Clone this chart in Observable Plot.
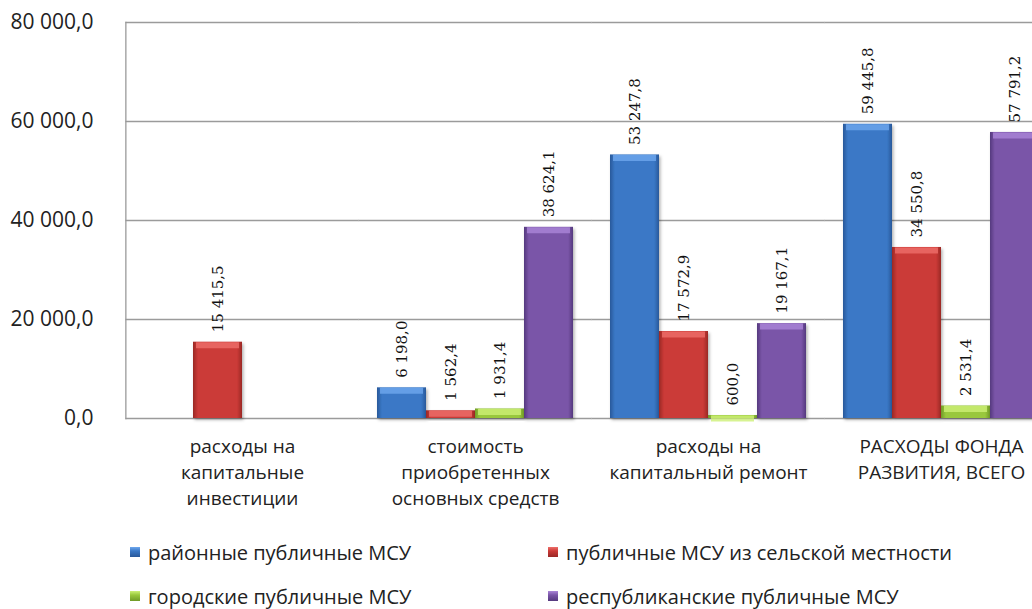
<!DOCTYPE html>
<html><head><meta charset="utf-8">
<script src="https://cdn.jsdelivr.net/npm/d3@7"></script>
<script src="https://cdn.jsdelivr.net/npm/@observablehq/plot@0.6"></script>
<style>
html,body{margin:0;padding:0;overflow:hidden;background:#fff;width:1032px;height:609px}
#chart{position:relative;width:1032px;height:530px;overflow:hidden}
#chart svg{max-width:none !important}
#legend{display:grid;grid-template-columns:418px 418px;grid-auto-rows:44px;padding-left:130px;font-family:'Open Sans',sans-serif;font-size:20px;color:#222}
#legend .item{display:flex;align-items:center;white-space:nowrap}
#legend .sw{width:10px;height:10px;margin-right:8px;display:inline-block}
</style></head><body>
<div id="chart"></div>
<div id="legend"></div>
<script>
const categories = ["расходы на капитальные инвестиции", "стоимость приобретенных основных средств", "расходы на капитальный ремонт", "РАСХОДЫ ФОНДА РАЗВИТИЯ, ВСЕГО"];
const categoryLabels = ["расходы на\nкапитальные\nинвестиции", "стоимость\nприобретенных\nосновных средств", "расходы на\nкапитальный ремонт", "РАСХОДЫ ФОНДА\nРАЗВИТИЯ, ВСЕГО"];
const series = ["районные публичные МСУ", "публичные МСУ из сельской местности", "городские публичные МСУ", "республиканские публичные МСУ"];
const district = [null, 6198.0, 53247.8, 59445.8];
const rural = [15415.5, 1562.4, 17572.9, 34550.8];
const urban = [null, 1931.4, 600.0, 2531.4];
const republican = [null, 38624.1, 19167.1, 57791.2];
const yTicks = [0, 20000, 40000, 60000, 80000];

const baseColors = ["#3a78c6", "#cb3a37", "#99c83c", "#7a55a8"];
const darkColors = ["#28589a", "#9a2826", "#709a28", "#55397e"];
const lightColors = ["#6fa8ee", "#ee6f6a", "#cdf077", "#ab86d8"];

const seriesValues = [district, rural, urban, republican];
const rows = [];
categories.forEach((c, ci) => {
  series.forEach((s, si) => {
    const v = seriesValues[si][ci];
    if (v != null) rows.push({category: c, series: s, value: v});
  });
});

const fmt = d3.formatLocale({decimal: ",", thousands: "\u00a0", grouping: [3], currency: ["", ""]}).format(",.1f");

const W = 1060, ML = 125, MR = 3, PAD_IN = 0.16, PAD_OUT = 0.08;
const step = (W - ML - MR) / categories.length;
const ext = step * PAD_OUT;

const plot = Plot.plot({
  width: W,
  height: 530,
  marginLeft: ML,
  marginRight: MR,
  marginTop: 22,
  marginBottom: 112,
  style: {fontFamily: "'Open Sans', sans-serif", color: "#222", background: "white", maxWidth: "none"},
  fx: {domain: categories, paddingInner: PAD_IN, paddingOuter: PAD_OUT, label: null, axis: null},
  x: {domain: series, padding: 0, axis: null},
  y: {domain: [0, 80000], axis: null},
  color: {domain: series, range: series.map((s, i) => `url(#grad${i})`)},
  marks: [
    Plot.ruleY(yTicks, {stroke: "#9b9b9b", strokeWidth: 1.3, insetLeft: -ext, insetRight: -ext}),
    Plot.frame({anchor: "left", facet: "super", stroke: "#9b9b9b", strokeWidth: 1.3, insetLeft: -ext}),
    Plot.barY(rows, {fx: "category", x: "series", y: "value", fill: "series"}),
    ...series.map((s, i) => Plot.tickY(rows.filter(r => r.series === s), {
      fx: "category", x: "series", y: "value", stroke: lightColors[i], strokeWidth: 6, dy: 3, inset: 3, strokeOpacity: 0.8
    })),
    Plot.text(rows, {
      fx: "category", x: "series", y: "value", text: d => fmt(d.value),
      rotate: -90, textAnchor: "start", dy: -10,
      fontFamily: "'DejaVu Serif', serif", fontSize: 15, fill: "#111"
    }),
    Plot.axisY(yTicks, {tickSize: 0, tickPadding: 51, fontSize: 21, tickFormat: fmt, fill: "#222", label: null}),
    Plot.axisFx({anchor: "bottom", tickSize: 0, tickPadding: 16, fontSize: 19, lineHeight: 1.36, fill: "#222", label: null,
      tickFormat: d => categoryLabels[categories.indexOf(d)]})
  ]
});

// gradients & shadow
const ns = "http://www.w3.org/2000/svg";
const defs = document.createElementNS(ns, "defs");
baseColors.forEach((c, i) => {
  const g = document.createElementNS(ns, "linearGradient");
  g.setAttribute("id", `grad${i}`);
  g.setAttribute("x1", "0"); g.setAttribute("x2", "1"); g.setAttribute("y1", "0"); g.setAttribute("y2", "0");
  [[0, darkColors[i]], [0.1, c], [0.9, c], [1, darkColors[i]]].forEach(([o, col]) => {
    const st = document.createElementNS(ns, "stop");
    st.setAttribute("offset", o);
    st.setAttribute("stop-color", col);
    g.appendChild(st);
  });
  defs.appendChild(g);
});
const f = document.createElementNS(ns, "filter");
f.setAttribute("id", "shadow");
f.setAttribute("x", "-20%"); f.setAttribute("y", "-20%"); f.setAttribute("width", "150%"); f.setAttribute("height", "150%");
const ds = document.createElementNS(ns, "feDropShadow");
ds.setAttribute("dx", "1.5"); ds.setAttribute("dy", "2"); ds.setAttribute("stdDeviation", "1.5");
ds.setAttribute("flood-color", "#000"); ds.setAttribute("flood-opacity", "0.3");
f.appendChild(ds);
defs.appendChild(f);
plot.insertBefore(defs, plot.firstChild);
plot.querySelectorAll('g[aria-label="bar"] rect').forEach(r => r.setAttribute("filter", "url(#shadow)"));

document.getElementById("chart").appendChild(plot);

const legend = document.getElementById("legend");
series.forEach((s, i) => {
  const it = document.createElement("div");
  it.className = "item";
  const sw = document.createElement("span");
  sw.className = "sw";
  sw.style.background = `linear-gradient(to bottom, ${lightColors[i]}, ${baseColors[i]} 40%, ${darkColors[i]})`;
  it.appendChild(sw);
  it.appendChild(document.createTextNode(s));
  legend.appendChild(it);
});
</script>
</body></html>
